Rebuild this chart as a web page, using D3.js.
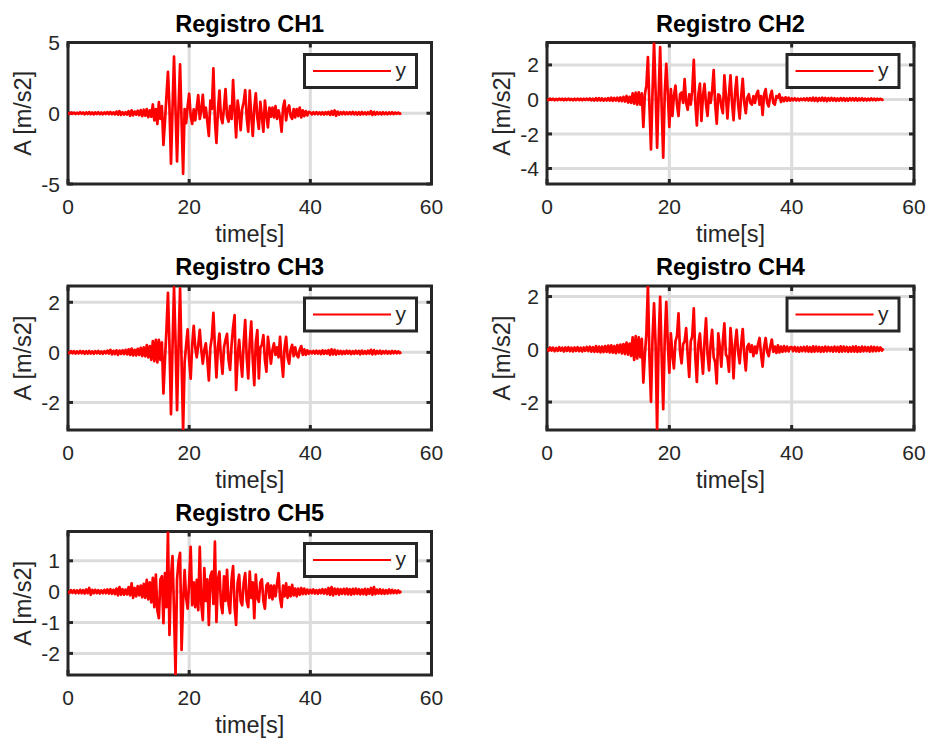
<!DOCTYPE html>
<html><head><meta charset="utf-8">
<script src="https://cdn.jsdelivr.net/npm/d3@7"></script>
<style>body{margin:0;background:#fff}svg{display:block}</style>
</head><body>
<svg id="chart" width="928" height="744"></svg>
<script>
// ---------- data ----------
const dt = 0.25; // sampling step of the stored series [s]
const titles = ["Registro CH1", "Registro CH2", "Registro CH3", "Registro CH4", "Registro CH5"];
const xLabel = "time[s]";
const yLabel = "A [m/s2]";
const legendLabel = "y";
const xDomain = [0, 60];
const xTicks = [0, 20, 40, 60];
const yDomains = [[-5, 5], [-4.9, 3.3], [-3.1, 2.65], [-3.06, 2.4], [-2.7, 1.95]];
const yTicks = [[-5, 0, 5], [-4, -2, 0, 2], [-2, 0, 2], [-2, 0, 2], [-2, -1, 0, 1]];

const ch1 = [
0.02,-0.05,0.06,-0.04, 0.05,-0.06,0.04,-0.05, 0.07,-0.04,0.05,-0.07, 0.06,-0.05,0.08,-0.06, 0.05,-0.08,0.06,-0.05,
0.07,-0.06,0.05,-0.07, 0.06,-0.05,0.08,-0.06, 0.09,-0.07,0.06,-0.08, 0.12,-0.1,0.15,-0.12, 0.08,-0.1,0.07,-0.09,
0.15,-0.18,0.2,-0.15, 0.12,-0.1,0.18,-0.14, 0.22,-0.2,0.25,-0.18, 0.3,-0.28,0.2,-0.25, 0.62,-0.5,0.3,-0.76,
0.79,-0.4,0.5,-2.24, -0.6,1.2,2.93,0.4, -3.57,0.3,4.0,0.2, -3.4,0.5,3.45,-0.6, -4.28,0.3,-0.7,0.5,
1.38,-0.2,-0.76,0.27, -0.5,0.4,1.29,-0.4, 0.2,1.3,-0.3,0.4, -0.6,-1.6,0.9,0.3, 3.17,-0.5,-2.1,0.2,
1.6,-0.3,-0.7,0.4, 1.7,-0.2,-0.6,0.5, -0.4,2.34,0.2,-1.7, 0.9,0.1,-1.2,0.3, 0.8,1.63,-0.3,-1.3,
1.6,-0.2,-1.6,0.4, 1.4,-0.3,-1.1,0.8, -0.2,-1.3,0.9,-0.1, -1.0,0.4,-0.25,0.4, -0.3,0.5,-0.4,0.2,
-0.3,-1.3,0.4,0.9, -0.5,0.3,0.55,-0.2, -0.4,0.3,-0.3,0.3, -0.2,0.4,-0.3,0.2, -0.2,0.15,-0.15,0.1,
0.06,-0.08,0.07,-0.06, 0.08,-0.07,0.06,-0.08, 0.07,-0.09,0.08,-0.07, 0.1,-0.12,0.15,-0.1, 0.2,-0.18,0.12,-0.1,
0.08,-0.07,0.09,-0.08, 0.07,-0.06,0.08,-0.07, 0.09,-0.08,0.07,-0.09, 0.08,-0.1,0.09,-0.07, 0.06,-0.08,0.07,-0.06,
0.15,-0.12,0.1,-0.09, 0.08,-0.07,0.06,-0.08, 0.07,-0.06,0.05,-0.07, 0.06,-0.05,0.07,-0.06, 0.05,-0.04,0.05,-0.04,
0.02];

const ch2 = [
0.02,-0.04,0.05,-0.03, 0.04,-0.05,0.03,-0.04, 0.05,-0.03,0.04,-0.05, 0.04,-0.04,0.05,-0.04, 0.03,-0.05,0.04,-0.04,
0.05,-0.04,0.04,-0.05, 0.04,-0.03,0.05,-0.04, 0.06,-0.05,0.04,-0.06, 0.07,-0.06,0.08,-0.06, 0.06,-0.07,0.05,-0.06,
0.08,-0.07,0.1,-0.08, 0.09,-0.07,0.1,-0.09, 0.12,-0.1,0.15,-0.12, 0.2,-0.18,0.15,-0.2, 0.35,-0.25,0.4,-0.3,
0.41,-0.3,0.35,-1.59, 0.3,0.8,2.45,-0.4, -2.9,0.4,3.32,0.5, -2.8,0.3,3.04,-0.5, -3.38,0.4,2.06,0.3,
-1.59,0.6,-0.96,0.2, 0.8,-0.3,-0.96,0.3, 0.4,-0.2,1.18,-0.2, -0.6,0.3,-0.3,0.5, 2.29,-0.2,-1.5,0.3,
0.92,-1.24,0.2,0.9, -0.3,-0.96,0.4,-0.2, 0.5,1.7,-0.3,-1.4, 0.3,0.2,-0.4,-0.8, 1.4,0.2,-1.1,0.3,
1.4,-0.2,-1.2,0.4, 1.3,-0.3,-1.1,0.2, 1.2,-0.2,-0.8,0.1, 0.3,-0.2,-0.3,0.2, -0.2,0.3,0.5,-0.3,
0.2,-0.9,0.3,0.6, -0.2,-0.4,0.2,0.5, -0.2,-0.3,0.2,0.1, 0.3,-0.15,0.1,-0.1, 0.12,-0.08,0.1,-0.07,
0.06,-0.05,0.07,-0.06, 0.05,-0.06,0.05,-0.04, 0.06,-0.05,0.07,-0.06, 0.08,-0.07,0.1,-0.08, 0.09,-0.1,0.08,-0.07,
0.1,-0.08,0.09,-0.1, 0.08,-0.07,0.09,-0.06, 0.07,-0.08,0.06,-0.07, 0.08,-0.06,0.07,-0.08, 0.06,-0.07,0.08,-0.05,
0.07,-0.06,0.08,-0.07, 0.06,-0.05,0.07,-0.06, 0.05,-0.06,0.04,-0.05, 0.06,-0.04,0.05,-0.05, 0.04,-0.03,0.04,-0.03,
0.02];

const ch3 = [
0.02,-0.04,0.05,-0.04, 0.05,-0.05,0.04,-0.04, 0.06,-0.04,0.05,-0.06, 0.05,-0.05,0.06,-0.05, 0.04,-0.06,0.05,-0.04,
0.06,-0.05,0.04,-0.06, 0.05,-0.04,0.07,-0.05, 0.1,-0.08,0.06,-0.07, 0.08,-0.1,0.07,-0.06, 0.08,-0.07,0.1,-0.08,
0.12,-0.1,0.15,-0.12, 0.1,-0.12,0.14,-0.1, 0.18,-0.15,0.2,-0.16, 0.29,-0.2,0.25,-0.3, 0.45,-0.35,0.5,-0.4,
0.5,-0.3,0.4,-1.64, -0.3,0.9,2.38,0.3, -2.47,0.2,2.6,0.4, -2.31,0.3,2.56,-0.4, -3.1,-0.4,0.3,0.92,
-0.3,-1.05,0.3,1.06, 0.2,-0.2,0.3,0.9, 0.1,-0.45,0.1,0.36, -0.3,-1.12,0.2,0.6, 1.58,0.2,-1.0,0.2,
0.75,-0.2,-0.85,0.2, 0.5,0.74,-0.3,-0.7, 0.3,1.0,1.49,-1.5, -0.2,0.5,-0.3,-0.97, 0.4,1.29,-0.2,-1.04,
0.4,1.23,-0.3,-1.31, 0.4,0.89,-1.04,0.2, 0.3,0.69,-0.3,-0.77, 0.62,0.1,-0.45,0.1, 0.36,-0.1,0.2,-0.2,
0.62,-0.3,-0.97,0.2, 0.62,-0.2,-0.45,0.1, 0.3,-0.15,0.2,-0.1, -0.2,0.1,0.25,-0.1, 0.12,-0.1,0.08,-0.06,
0.05,-0.04,0.06,-0.05, 0.07,-0.05,0.06,-0.07, 0.08,-0.06,0.07,-0.05, 0.09,-0.1,0.12,-0.08, 0.1,-0.09,0.07,-0.06,
0.06,-0.07,0.05,-0.06, 0.07,-0.05,0.06,-0.07, 0.05,-0.06,0.07,-0.05, 0.06,-0.08,0.07,-0.06, 0.05,-0.06,0.07,-0.05,
0.1,-0.08,0.09,-0.07, 0.06,-0.05,0.07,-0.06, 0.05,-0.04,0.06,-0.05, 0.04,-0.05,0.06,-0.04, 0.05,-0.04,0.04,-0.03,
0.02];

const ch4 = [
0.03,-0.06,0.07,-0.05, 0.06,-0.07,0.05,-0.06, 0.08,-0.05,0.06,-0.08, 0.07,-0.06,0.08,-0.07, 0.06,-0.08,0.07,-0.06,
0.08,-0.07,0.06,-0.08, 0.07,-0.06,0.09,-0.07, 0.1,-0.09,0.08,-0.1, 0.12,-0.1,0.1,-0.12, 0.1,-0.11,0.12,-0.1,
0.14,-0.12,0.15,-0.13, 0.12,-0.15,0.16,-0.12, 0.18,-0.16,0.2,-0.18, 0.25,-0.2,0.22,-0.25, 0.45,-0.4,0.5,-0.35,
0.45,-0.3,0.4,-1.26, -0.2,0.6,2.4,-0.3, -1.99,0.4,1.74,0.2, -3.06,0.3,1.99,-0.3, -2.27,0.4,1.8,0.2,
-0.89,0.6,-0.2,-0.72, 0.3,0.5,1.36,-0.1, -0.53,0.2,0.3,0.8, -0.2,-1.05,0.3,0.5, 1.55,-0.3,-1.24,0.2,
0.6,-0.2,-0.92,0.3, 1.17,-0.2,-0.8,0.2, 0.74,-0.3,-0.5,-1.29, 0.6,0.1,-0.66,0.3, 0.98,-0.2,-0.3,-0.85,
0.8,0.1,-1.1,0.2, 0.74,-0.1,-0.53,0.2, 0.77,-0.2,-0.8,0.1, 0.2,-0.1,0.15,-0.26, 0.1,-0.15,0.2,0.43,
-0.2,-0.66,0.1,0.43, -0.1,-0.26,0.1,0.37, -0.1,0.1,-0.14,0.15, -0.12,0.1,-0.1,0.12, -0.08,0.1,-0.08,0.07,
0.08,-0.07,0.09,-0.08, 0.07,-0.09,0.08,-0.07, 0.09,-0.08,0.1,-0.09, 0.08,-0.1,0.11,-0.09, 0.1,-0.08,0.09,-0.1,
0.08,-0.09,0.1,-0.08, 0.09,-0.07,0.08,-0.09, 0.1,-0.08,0.09,-0.1, 0.11,-0.09,0.1,-0.08, 0.09,-0.1,0.08,-0.09,
0.1,-0.09,0.11,-0.1, 0.08,-0.09,0.1,-0.08, 0.09,-0.07,0.08,-0.09, 0.1,-0.08,0.09,-0.07, 0.08,-0.06,0.07,-0.05,
0.03];

const ch5 = [
0.02,-0.04,0.05,-0.04, 0.05,-0.05,0.04,-0.05, 0.06,-0.05,0.05,-0.06, 0.07,-0.05,0.12,-0.1, 0.06,-0.05,0.06,-0.05,
0.05,-0.06,0.04,-0.05, 0.06,-0.05,0.07,-0.06, 0.08,-0.07,0.06,-0.08, 0.1,-0.12,0.15,-0.1, 0.08,-0.1,0.07,-0.09,
0.15,-0.12,0.27,-0.2, 0.12,-0.15,0.18,-0.12, 0.2,-0.18,0.25,-0.2, 0.38,-0.25,0.3,-0.35, 0.45,-0.5,0.55,-0.6,
-0.86,0.4,0.5,-1.02, 0.6,-0.5,1.95,-1.4, 0.5,1.15,-0.6,-2.7, 0.4,0.99,1.26,-1.89, -0.3,0.7,-0.2,-0.55,
0.3,1.45,-0.44,0.3, -0.5,0.38,-0.6,1.45, -0.4,-0.92,0.76,-0.3, 0.4,-1.08,0.5,0.65, -0.4,1.62,-0.98,0.4,
0.65,-0.4,-0.7,0.5, -0.3,0.71,-0.4,-0.7, 0.4,0.83,-0.5,-1.08, 0.3,0.55,-0.3,-0.44, 0.3,0.6,-0.3,-0.5,
0.65,-0.2,0.3,-0.86, 0.55,-0.2,-0.33,0.3, 0.4,-0.3,-0.55,0.2, 0.27,-0.2,0.2,-0.25, 0.2,-0.15,0.25,0.6,
-0.2,-0.5,0.2,-0.15, 0.27,-0.2,0.15,-0.15, 0.22,-0.12,0.1,-0.15, 0.1,-0.1,0.12,-0.08, 0.1,-0.08,0.07,-0.06,
0.06,-0.05,0.07,-0.06, 0.05,-0.07,0.06,-0.05, 0.08,-0.06,0.07,-0.08, 0.12,-0.1,0.15,-0.12, 0.1,-0.08,0.09,-0.1,
0.08,-0.07,0.09,-0.08, 0.1,-0.09,0.08,-0.1, 0.09,-0.08,0.1,-0.07, 0.08,-0.09,0.07,-0.08, 0.09,-0.1,0.08,-0.07,
0.12,-0.1,0.15,-0.08, 0.07,-0.06,0.08,-0.07, 0.06,-0.07,0.05,-0.06, 0.07,-0.05,0.06,-0.05, 0.04,-0.05,0.04,-0.03,
0.02];

const channels = [ch1, ch2, ch3, ch4, ch5];

// ---------- layout ----------
const panels = [
  {left: 68, right: 431.5, top: 42.5, bottom: 184},
  {left: 547, right: 914, top: 42.5, bottom: 184},
  {left: 68, right: 431.5, top: 286, bottom: 430},
  {left: 547, right: 914, top: 286, bottom: 430},
  {left: 68, right: 431.5, top: 531.5, bottom: 675}
];
const ink = "#262626";
const gridCol = "#dcdcdc";
const fontFam = "'Liberation Sans', Arial, Helvetica, sans-serif";

const svg = d3.select("#chart");
svg.append("rect").attr("width", 928).attr("height", 744).attr("fill", "#fff");

channels.forEach((series, k) => {
  const p = panels[k];
  const x = d3.scaleLinear().domain(xDomain).range([p.left, p.right]);
  const y = d3.scaleLinear().domain(yDomains[k]).range([p.bottom, p.top]);
  const g = svg.append("g");

  // grid
  g.append("g").selectAll("line").data(xTicks.filter(t => t > xDomain[0] && t < xDomain[1])).join("line")
    .attr("x1", d => x(d)).attr("x2", d => x(d)).attr("y1", p.top).attr("y2", p.bottom)
    .attr("stroke", gridCol).attr("stroke-width", 3);
  g.append("g").selectAll("line").data(yTicks[k].filter(t => t > yDomains[k][0] && t < yDomains[k][1])).join("line")
    .attr("y1", d => y(d)).attr("y2", d => y(d)).attr("x1", p.left).attr("x2", p.right)
    .attr("stroke", gridCol).attr("stroke-width", 3);

  // axes box
  g.append("rect").attr("x", p.left).attr("y", p.top)
    .attr("width", p.right - p.left).attr("height", p.bottom - p.top)
    .attr("fill", "none").attr("stroke", ink).attr("stroke-width", 3);

  // ticks (inward, all four sides)
  const tl = 5;
  const tg = g.append("g").attr("stroke", ink).attr("stroke-width", 3);
  xTicks.forEach(t => {
    tg.append("line").attr("x1", x(t)).attr("x2", x(t)).attr("y1", p.bottom).attr("y2", p.bottom - tl);
    tg.append("line").attr("x1", x(t)).attr("x2", x(t)).attr("y1", p.top).attr("y2", p.top + tl);
  });
  yTicks[k].forEach(t => {
    tg.append("line").attr("y1", y(t)).attr("y2", y(t)).attr("x1", p.left).attr("x2", p.left + tl);
    tg.append("line").attr("y1", y(t)).attr("y2", y(t)).attr("x1", p.right).attr("x2", p.right - tl);
  });

  // tick labels
  g.append("g").selectAll("text").data(xTicks).join("text")
    .attr("x", d => x(d)).attr("y", p.bottom + 30)
    .attr("text-anchor", "middle").attr("font-family", fontFam).attr("font-size", 21)
    .attr("fill", ink).text(d => String(d));
  g.append("g").selectAll("text").data(yTicks[k]).join("text")
    .attr("x", p.left - 8).attr("y", d => y(d)).attr("dy", "0.36em")
    .attr("text-anchor", "end").attr("font-family", fontFam).attr("font-size", 21)
    .attr("fill", ink).text(d => String(d));

  // axis labels
  g.append("text").attr("x", (p.left + p.right) / 2).attr("y", p.bottom + 58)
    .attr("text-anchor", "middle").attr("font-family", fontFam).attr("font-size", 23.5)
    .attr("fill", ink).text(xLabel);
  const yl = p.left - 37, ym = (p.top + p.bottom) / 2;
  g.append("text").attr("transform", `translate(${yl},${ym}) rotate(-90)`)
    .attr("text-anchor", "middle").attr("font-family", fontFam).attr("font-size", 23.5)
    .attr("fill", ink).text(yLabel);

  // title
  g.append("text").attr("x", (p.left + p.right) / 2).attr("y", p.top - 11)
    .attr("text-anchor", "middle").attr("font-family", fontFam).attr("font-size", 23.5)
    .attr("font-weight", "bold").attr("fill", "#000").text(titles[k]);

  // data line (clipped to the axes)
  const cid = "clip" + k;
  svg.append("clipPath").attr("id", cid).append("rect")
    .attr("x", p.left).attr("y", p.top).attr("width", p.right - p.left).attr("height", p.bottom - p.top);
  const line = d3.line().x((d, i) => x(i * dt)).y(d => y(d));
  g.append("path").datum(series).attr("clip-path", `url(#${cid})`)
    .attr("d", line).attr("fill", "none").attr("stroke", "#ff0000")
    .attr("stroke-width", 2.7).attr("stroke-linejoin", "round");

  // legend
  const lx = p.right - 127, ly = p.top + 12, lw = 112, lh = 33;
  const lg = g.append("g");
  lg.append("rect").attr("x", lx).attr("y", ly).attr("width", lw).attr("height", lh)
    .attr("fill", "#fff").attr("stroke", ink).attr("stroke-width", 3);
  lg.append("line").attr("x1", lx + 8.5).attr("x2", lx + 86.5).attr("y1", ly + 16.5).attr("y2", ly + 16.5)
    .attr("stroke", "#ff0000").attr("stroke-width", 2);
  lg.append("text").attr("x", lx + 91).attr("y", ly + 16.5).attr("dy", "0.3em")
    .attr("font-family", fontFam).attr("font-size", 21).attr("fill", ink).text(legendLabel);
});
</script>
</body></html>
